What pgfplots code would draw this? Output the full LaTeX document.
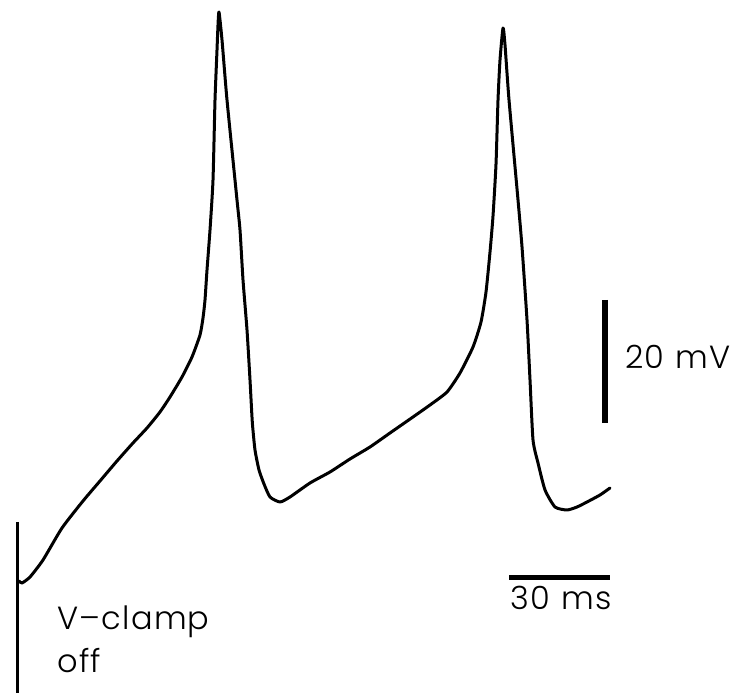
\documentclass[border=0pt]{standalone}
\usepackage{pgfplots}
\pgfplotsset{compat=1.18}
\usepackage{fontspec}
\setmainfont{Poppins}[UprightFont=* Light, LetterSpace=4]

\begin{document}
\begin{tikzpicture}
\begin{axis}[
  hide axis,
  scale only axis,
  x=3.36667pt, y=6.15pt,
  xmin=-5.94, xmax=214.75,
  ymin=-78.54, ymax=34.63,
  clip=false,
]
% frame of the figure (invisible)
\path (axis cs:-5.94,-78.54) rectangle (axis cs:214.75,34.63);

% membrane potential after release of the voltage clamp (ms, mV)
\addplot[black, line width=3pt, line join=round, line cap=round, smooth, tension=0.35] coordinates {
(-0.297,-59.837) (0.594,-60.163) (2.970,-59.187) (6.832,-56.423)
(12.475,-51.220) (18.713,-46.829) (23.762,-43.577) (28.812,-40.325)
(33.564,-37.398) (37.723,-34.959) (41.584,-32.358) (44.555,-29.919)
(48.119,-26.667) (51.089,-23.415) (53.465,-19.837) (54.356,-17.073)
(54.950,-14.146) (55.545,-9.268) (56.436,-2.764) (57.327,5.366)
(57.921,18.374) (58.515,26.504) (58.812,30.569) (59.109,32.683)
(60.000,28.130) (61.485,18.374) (64.455,2.114) (65.347,-2.764)
(66.238,-10.894) (67.426,-19.024) (68.317,-27.154) (69.000,-34.000)
(69.802,-38.537) (70.990,-41.789) (72.475,-44.065) (74.258,-46.179)
(77.228,-46.992) (80.198,-46.179) (86.139,-43.902) (92.079,-42.114)
(98.020,-40.000) (103.960,-38.049) (109.901,-35.772) (116.733,-33.171)
(121.782,-31.220) (126.832,-29.106) (130.693,-26.016) (134.554,-21.789)
(136.931,-17.724) (138.416,-12.846) (139.604,-6.341) (140.495,-0.488)
(141.386,7.967) (141.980,18.374) (142.574,24.878) (143.465,30.081)
(144.059,27.317) (145.248,18.374) (147.921,2.114) (149.109,-5.528)
(150.594,-17.398) (151.485,-27.154) (152.376,-36.911) (153.861,-40.650)
(155.941,-45.041) (158.911,-47.805) (162.475,-48.293) (165.446,-47.805)
(168.416,-46.992) (172.277,-45.854) (175.248,-44.715)
};

% clamp release marker
\addplot[black, line width=3pt] coordinates {(-0.594,-50.244) (-0.594,-78.049)};

% scale bars: 20 mV and 30 ms
\addplot[black, line width=5.5pt] coordinates {(173.76,-14.146) (173.76,-34.146)};
\addplot[black, line width=5pt] coordinates {(145.25,-59.35) (175.25,-59.35)};

\node[anchor=west, inner sep=0pt, font=\fontsize{32}{38}\selectfont] at (axis cs:179.70,-23.415) {20\,\,mV};
\node[anchor=north, inner sep=0pt, font=\fontsize{32}{38}\selectfont] at (axis cs:160.69,-60.6) {30\,\,ms};
\node[anchor=base west, inner sep=0pt, font=\fontsize{32}{38}\selectfont] at (axis cs:10.99,-67.805) {V--clamp};
\node[anchor=base west, inner sep=0pt, font=\fontsize{32}{38}\selectfont] at (axis cs:10.99,-74.797) {off};
\end{axis}
\end{tikzpicture}
\end{document}
